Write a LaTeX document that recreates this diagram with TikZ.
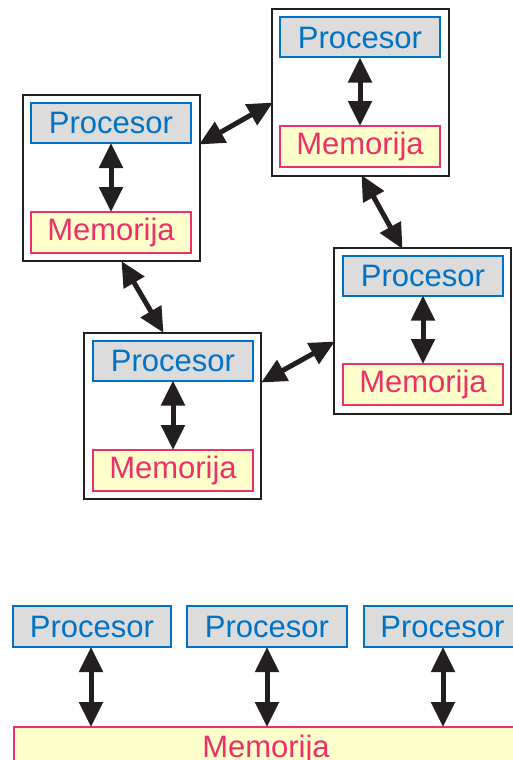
\documentclass[tikz,border=0pt]{standalone}
\usepackage{fontspec}
\setmainfont{Liberation Sans}
\usetikzlibrary{arrows.meta}
\definecolor{pblue}{RGB}{0,114,198}
\definecolor{pgray}{RGB}{220,220,220}
\definecolor{mpink}{RGB}{238,48,105}
\definecolor{myellow}{RGB}{255,255,204}
\definecolor{adark}{RGB}{35,31,32}
\tikzset{
  procbox/.style={draw=pblue, fill=pgray, line width=2pt, text=pblue, minimum width=160pt, minimum height=40pt, inner sep=0pt, font=\fontsize{31}{31}\selectfont},
  membox/.style={draw=mpink, fill=myellow, line width=2pt, text=mpink, minimum width=160pt, minimum height=41pt, inner sep=0pt, font=\fontsize{31}{31}\selectfont},
  frame/.style={draw=adark, line width=2pt, minimum width=177pt, minimum height=166pt, inner sep=0pt},
  link/.style={draw=adark, line width=5pt, {Triangle[width=23pt,length=25pt]}-{Triangle[width=23pt,length=25pt]}, shorten <=-1pt, shorten >=-1pt}
}
\begin{document}
\begin{tikzpicture}[x=1pt,y=-1pt]
\useasboundingbox (0,0) rectangle (512,760);
% frames
\node[frame] (f1) at (111.5,178) {};
\node[frame] (f2) at (360.5,92.5) {};
\node[frame] (f3) at (422.5,331) {};
\node[frame] (f4) at (172.5,415.5) {};
% inner boxes
\node[procbox] (p1) at (111,123) {Procesor};
\node[membox] (m1) at (111,232.5) {Memorija};
\node[procbox] (p2) at (360,37.5) {Procesor};
\node[membox] (m2) at (360,146.5) {Memorija};
\node[procbox] (p3) at (423,275.5) {Procesor};
\node[membox] (m3) at (423,384.5) {Memorija};
\node[procbox] (p4) at (173,360.5) {Procesor};
\node[membox] (m4) at (173,470.5) {Memorija};
% inner links
\draw[link] (p1.south) -- (m1.north);
\draw[link] (p2.south) -- (m2.north);
\draw[link] (p3.south) -- (m3.north);
\draw[link] (p4.south) -- (m4.north);
% frame anchors
\coordinate (a1) at (200,144);
\coordinate (a2) at (272,103);
\coordinate (b1) at (362,176);
\coordinate (b2) at (402,248);
\coordinate (c1) at (122,262);
\coordinate (c2) at (163,332);
\coordinate (d1) at (262,382);
\coordinate (d2) at (334,342);
\draw[link] (a1) -- (a2);
\draw[link] (b1) -- (b2);
\draw[link] (c1) -- (c2);
\draw[link] (d1) -- (d2);
% bottom section
\node[procbox, minimum width=158pt, minimum height=41pt] (q1) at (92,626.5) {Procesor};
\node[procbox, minimum width=160pt, minimum height=41pt] (q2) at (267,626.5) {Procesor};
\node[procbox, minimum width=160pt, minimum height=41pt, anchor=west] (q3) at (363,626.5) {\hspace*{-3pt}Procesor};
\node[membox, minimum width=520pt, minimum height=50pt, anchor=north west] (mm) at (13,726) {};
\node[text=mpink, font=\fontsize{31}{31}\selectfont, anchor=base] (mmt) at (266,757) {Memorija};
\coordinate (t1) at (91,726);
\coordinate (t2) at (267,726);
\coordinate (t3) at (443,726);
\draw[link] (q1.south -| t1) -- (t1);
\draw[link] (q2.south -| t2) -- (t2);
\draw[link] (q3.south -| t3) -- (t3);
\end{tikzpicture}
\end{document}
